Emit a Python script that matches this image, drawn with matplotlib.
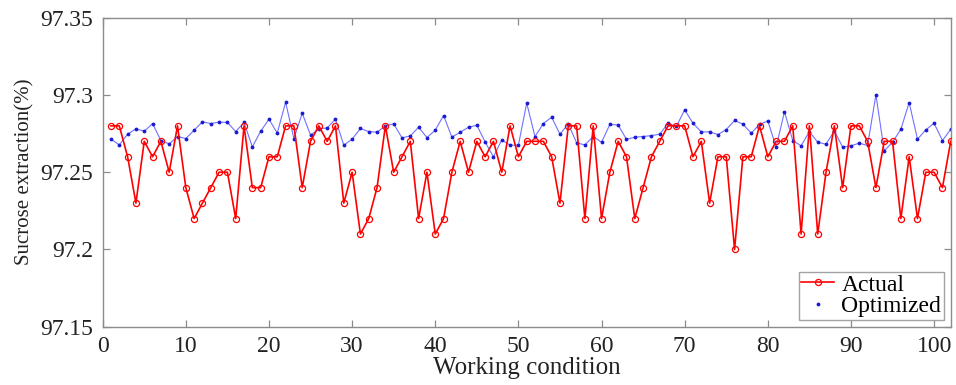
import matplotlib
matplotlib.use("Agg")
import matplotlib.pyplot as plt
from matplotlib.ticker import FixedLocator, FuncFormatter

# Working condition index
conditions = list(range(1, 103))

# Measured sucrose extraction (%)
actual = [
    97.28, 97.28, 97.26, 97.23, 97.27, 97.26, 97.27, 97.25, 97.28, 97.24,
    97.22, 97.23, 97.24, 97.25, 97.25, 97.22, 97.28, 97.24, 97.24, 97.26,
    97.26, 97.28, 97.28, 97.24, 97.27, 97.28, 97.27, 97.28, 97.23, 97.25,
    97.21, 97.22, 97.24, 97.28, 97.25, 97.26, 97.27, 97.22, 97.25, 97.21,
    97.22, 97.25, 97.27, 97.25, 97.27, 97.26, 97.27, 97.25, 97.28, 97.26,
    97.27, 97.27, 97.27, 97.26, 97.23, 97.28, 97.28, 97.22, 97.28, 97.22,
    97.25, 97.27, 97.26, 97.22, 97.24, 97.26, 97.27, 97.28, 97.28, 97.28,
    97.26, 97.27, 97.23, 97.26, 97.26, 97.20, 97.26, 97.26, 97.28, 97.26,
    97.27, 97.27, 97.28, 97.21, 97.28, 97.21, 97.25, 97.28, 97.24, 97.28,
    97.28, 97.27, 97.24, 97.27, 97.27, 97.22, 97.26, 97.22, 97.25, 97.25,
    97.24, 97.27,
]

# Optimized sucrose extraction (%)
optimized = [
    97.2714, 97.2677, 97.2746, 97.2781, 97.2765, 97.2815, 97.2705, 97.2683, 97.2731, 97.2718,
    97.2772, 97.2826, 97.2815, 97.2824, 97.2822, 97.2763, 97.2822, 97.2664, 97.2765, 97.2843,
    97.2753, 97.2953, 97.2718, 97.2882, 97.2740, 97.2780, 97.2787, 97.2843, 97.2675, 97.2714,
    97.2783, 97.2763, 97.2759, 97.2800, 97.2813, 97.2722, 97.2735, 97.2791, 97.2724, 97.2772,
    97.2867, 97.2727, 97.2759, 97.2791, 97.2804, 97.2696, 97.2599, 97.2709, 97.2675, 97.2675,
    97.2947, 97.2730, 97.2815, 97.2856, 97.2746, 97.2813, 97.2690, 97.2677, 97.2731, 97.2694,
    97.2809, 97.2806, 97.2712, 97.2727, 97.2731, 97.2737, 97.2746, 97.2817, 97.2796, 97.2904,
    97.2817, 97.2761, 97.2761, 97.2744, 97.2776, 97.2835, 97.2811, 97.2753, 97.2809, 97.2832,
    97.2662, 97.2891, 97.2705, 97.2671, 97.2763, 97.2694, 97.2681, 97.2768, 97.2662, 97.2671,
    97.2688, 97.2673, 97.3001, 97.2638, 97.2694, 97.2778, 97.2951, 97.2714, 97.2774, 97.2817,
    97.2705, 97.2778,
]

x_ticks = [0, 10, 20, 30, 40, 50, 60, 70, 80, 90, 100]
y_ticks = [97.15, 97.2, 97.25, 97.3, 97.35]

plt.rcParams["font.family"] = ["Liberation Serif", "DejaVu Serif"]

fig = plt.figure(figsize=(9.56, 3.85), dpi=100)
ax = fig.add_axes([0.1074, 0.1514, 0.8871, 0.8026])

ax.plot(conditions, actual, color="red", lw=1.2, marker="o", ms=4.4,
        mfc="none", mec="red", mew=0.9, label="Actual", zorder=3)
ax.plot(conditions, optimized, color="#7070ff", lw=0.8, zorder=2)
ax.plot(conditions, optimized, ls="none", marker=".", ms=3.5,
        color="#1a1ad0", label="Optimized", zorder=2.5)

ax.set_xlim(0, 102)
ax.set_ylim(97.15, 97.35)
ax.xaxis.set_major_locator(FixedLocator(x_ticks))
ax.yaxis.set_major_locator(FixedLocator(y_ticks))
ax.yaxis.set_major_formatter(FuncFormatter(lambda v, p: f"{v:g}"))

spine_color = "#8c8c8c"
for s in ax.spines.values():
    s.set_color(spine_color)
    s.set_linewidth(1.0)
ax.tick_params(direction="in", length=5, width=0.9, color=spine_color,
               top=True, right=True, labelsize=17, labelcolor="#222222")
ax.tick_params(axis="x", pad=7)
ax.tick_params(axis="y", pad=7)

ax.set_xlabel("Working condition", fontsize=18, color="#222222", labelpad=0)
ax.set_ylabel("Sucrose extraction(%)", fontsize=15, color="#222222", labelpad=4)

leg = ax.legend(loc="lower right", fontsize=17, frameon=True, fancybox=False,
                borderpad=0.1, handlelength=1.4, handletextpad=0.3,
                labelspacing=0.0, borderaxespad=0.3)
leg.get_frame().set_edgecolor("#8c8c8c")
leg.get_frame().set_linewidth(1.0)

fig.savefig("out.png", dpi=100)
